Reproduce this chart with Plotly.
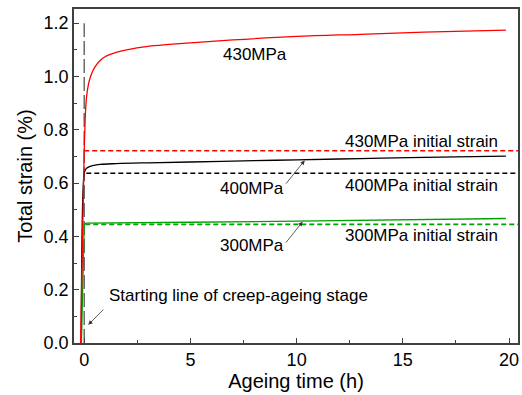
import plotly.graph_objects as go

# ---- data ----
t_430 = [-0.17, 0.0, 0.03, 0.07, 0.12, 0.2, 0.3, 0.5, 0.75, 1.0, 1.5, 2.0, 3.0, 4.0, 5.0, 7.0, 10.0, 13.0, 16.0, 19.85]
e_430 = [0.0, 0.72, 0.80, 0.88, 0.93, 0.97, 1.00, 1.035, 1.06, 1.075, 1.09, 1.10, 1.113, 1.12, 1.126, 1.137, 1.150, 1.158, 1.166, 1.174]

t_400 = [-0.14, 0.0, 0.05, 0.1, 0.2, 0.4, 0.75, 1.5, 3.0, 5.0, 8.0, 10.0, 13.0, 16.0, 19.85]
e_400 = [0.0, 0.637, 0.648, 0.655, 0.660, 0.665, 0.670, 0.673, 0.676, 0.679, 0.684, 0.687, 0.692, 0.696, 0.701]

t_300 = [-0.13, 0.0, 0.1, 1.0, 5.0, 10.0, 15.0, 19.85]
e_300 = [0.0, 0.447, 0.450, 0.451, 0.453, 0.457, 0.462, 0.467]

initial_strain = {"430MPa": 0.721, "400MPa": 0.637, "300MPa": 0.445}
start_line_x = [0.0, 0.0]
start_line_y = [0.0, 1.2]

x_ticks = [0, 5, 10, 15, 20]
y_ticks = [0.0, 0.2, 0.4, 0.6, 0.8, 1.0, 1.2]
y_ticklabels = ["0.0", "0.2", "0.4", "0.6", "0.8", "1.0", "1.2"]

FONT = "Arial, 'Liberation Sans', sans-serif"
AX = "#404040"

fig = go.Figure()

# vertical start line
fig.add_trace(go.Scatter(x=start_line_x, y=start_line_y, mode="lines",
                         line=dict(color="#555555", width=1.3, dash="14px,4px"),
                         showlegend=False, hoverinfo="skip"))

x_end = 20.45
fig.add_trace(go.Scatter(x=[0.0, x_end], y=[initial_strain["430MPa"]] * 2, mode="lines",
                         line=dict(color="#ff0000", width=1.6, dash="5px,3px"), showlegend=False))
fig.add_trace(go.Scatter(x=[0.1, x_end], y=[initial_strain["400MPa"]] * 2, mode="lines",
                         line=dict(color="#000000", width=1.6, dash="5px,3px"), showlegend=False))
fig.add_trace(go.Scatter(x=[0.05, x_end], y=[initial_strain["300MPa"]] * 2, mode="lines",
                         line=dict(color="#00a000", width=1.6, dash="5px,3px"), showlegend=False))

fig.add_trace(go.Scatter(x=t_400, y=e_400, mode="lines", line=dict(color="#000000", width=1.3, shape="spline"),
                         showlegend=False))
fig.add_trace(go.Scatter(x=t_300, y=e_300, mode="lines", line=dict(color="#00a000", width=1.3),
                         showlegend=False))
fig.add_trace(go.Scatter(x=t_430, y=e_430, mode="lines", line=dict(color="#ff0000", width=1.3, shape="spline"),
                         showlegend=False))

tf = dict(family=FONT, size=17, color="#000000")
texts = [
    ("430MPa", 8.02, 1.084, "center"),
    ("430MPa initial strain", 15.9, 0.756, "center"),
    ("400MPa", 7.91, 0.579, "center"),
    ("400MPa initial strain", 15.86, 0.592, "center"),
    ("300MPa", 7.9, 0.365, "center"),
    ("300MPa initial strain", 15.86, 0.405, "center"),
    ("Starting line of creep-ageing stage", 1.09, 0.18, "left"),
]
for txt, x, y, anc in texts:
    fig.add_annotation(x=x, y=y, text=txt, showarrow=False, font=tf, xanchor=anc, yanchor="middle")

arrows = [
    (10.38, 0.685, 9.44, 0.592),
    (10.28, 0.455, 9.44, 0.371),
    (0.19, 0.068, 0.97, 0.131),
]
for x, y, ax, ay in arrows:
    fig.add_annotation(x=x, y=y, ax=ax, ay=ay, axref="x", ayref="y", text="", showarrow=True,
                       arrowhead=2, arrowsize=1.1, arrowwidth=0.8, arrowcolor="#333333")

fig.update_xaxes(range=[-0.48, 20.42], tickvals=x_ticks, ticks="inside", ticklen=5, tickwidth=1.3,
                 tickcolor=AX, showline=True, linecolor=AX, linewidth=1.5, mirror=True,
                 showgrid=False, zeroline=False,
                 minor=dict(dtick=2.5, tick0=0, ticks="inside", ticklen=3, tickcolor=AX, showgrid=False),
                 tickfont=dict(family=FONT, size=18, color="#000"),
                 title=dict(text="Ageing time (h)", font=dict(family=FONT, size=20, color="#000"), standoff=2))
fig.update_yaxes(range=[0, 1.253], tickvals=y_ticks, ticktext=y_ticklabels, ticks="inside", ticklen=5,
                 tickwidth=1.3, tickcolor=AX, showline=True, linecolor=AX, linewidth=1.5, mirror=True,
                 showgrid=False, zeroline=False,
                 minor=dict(dtick=0.1, tick0=0, ticks="inside", ticklen=3, tickcolor=AX, showgrid=False),
                 tickfont=dict(family=FONT, size=18, color="#000"),
                 title=dict(text="Total strain (%)", font=dict(family=FONT, size=20, color="#000"), standoff=6))

fig.update_layout(width=522, height=395, margin=dict(l=74, r=2, t=9, b=52),
                  paper_bgcolor="white", plot_bgcolor="white", showlegend=False)

fig.write_html("out.html")
